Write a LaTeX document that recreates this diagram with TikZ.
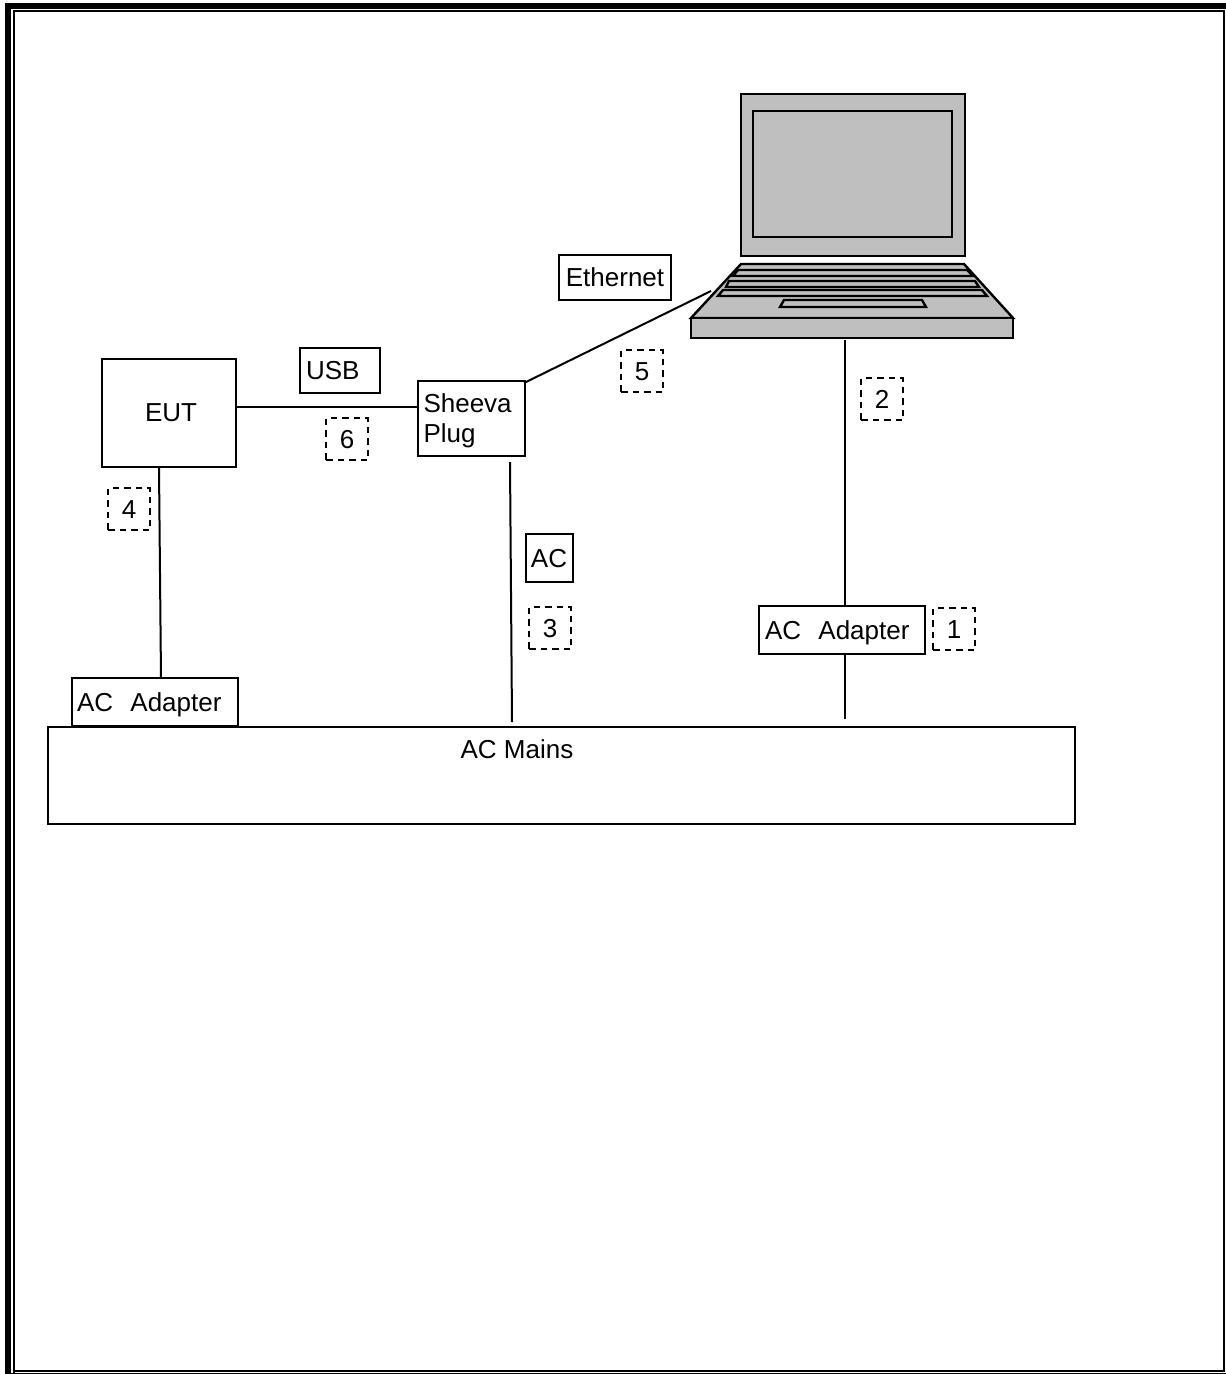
\documentclass[tikz,border=0pt]{standalone}
\usepackage{fontspec}
\setmainfont{Liberation Sans}
\begin{document}
\begin{tikzpicture}[
    x=1pt, y=-1pt,
    every node/.style={font=\fontsize{26pt}{30.5pt}\selectfont},
    labelbox/.style={draw, line width=2pt, inner sep=0pt, anchor=center, text height=19pt, text depth=0pt},
    leftbox/.style={labelbox, align=left, inner xsep=6pt},
    markbox/.style={draw, dash pattern=on 6.5pt off 5pt, line width=2pt, inner sep=0pt, anchor=center, minimum width=42pt, minimum height=42pt, text height=19pt, text depth=0pt},
    wire/.style={line width=2pt},
    laptop/.style={draw, line width=2.4pt, fill=gray!50!white}
]
\useasboundingbox (0,0) rectangle (1226,1374);
% page frame
\draw[line width=6.5pt] (8,1374) -- (8,6) -- (1226,6);
\draw[line width=2.6pt] (14,1374) -- (14,11) -- (1224,11) -- (1224,1371) -- (14,1371);
\draw[line width=1.5pt] (11,1373.6) -- (1226,1373.6);
% laptop
\draw[laptop] (741,94) rectangle (965,256);
\draw[laptop] (753,111) rectangle (952,237);
\draw[laptop] (741,264) -- (964,264) -- (1013,318) -- (691,318) -- cycle;
\draw[laptop] (691,318) rectangle (1013,338);
\draw[laptop] (738,270) -- (967,270) -- (973,276) -- (733,276) -- cycle;
\draw[laptop] (729,281) -- (975,281) -- (979,287) -- (726,287) -- cycle;
\draw[laptop] (723,290) -- (982,290) -- (987,296) -- (718,296) -- cycle;
\draw[laptop] (784,300) -- (922,300) -- (926,307) -- (780,307) -- cycle;
% boxes
\node[labelbox, text depth=2pt, minimum width=134pt, minimum height=108pt] (eut) at (169,413) {\hspace*{4pt}EUT};
\node[leftbox, text depth=31pt, text width=95pt, minimum height=75pt] (plug) at (471,418) {Sheeva\\Plug};
\node[leftbox, text width=154pt, minimum height=48pt] (adapterA) at (842,630) {AC\ \ Adapter};
\node[leftbox, inner xsep=5pt, text width=156pt, minimum height=48pt] (adapterB) at (155,702) {AC\ \ Adapter};
\node[labelbox, minimum width=1027pt, minimum height=97pt, text depth=53pt] (mains) at (561.5,775) {\hspace*{-89pt}AC Mains};
\node[labelbox, minimum width=112pt, minimum height=45pt] (ethernet) at (615,277) {Ethernet};
\node[leftbox, text width=68pt, minimum height=45pt] (usb) at (340,370) {USB};
\node[labelbox, minimum width=47pt, minimum height=48pt] (ac) at (549,558) {AC};
% numbered marks
\node[markbox] (mark1) at (954,629) {1};
\node[markbox] (mark2) at (882,399) {2};
\node[markbox] (mark3) at (550,628) {3};
\node[markbox] (mark4) at (129,509) {4};
\node[markbox] (mark5) at (642,371) {5};
\node[markbox] (mark6) at (347,439) {6};
% connector ends
\coordinate (laptopPort) at (711,291);
\coordinate (laptopPower) at (845,340);
\coordinate (plugPort) at (524,383);
\coordinate (plugPower) at (510,462);
\coordinate (eutPower) at (159,468);
\coordinate (adapterIn) at (161,678);
\coordinate (mainsA) at (512,722);
\coordinate (mainsB) at (845,719);
% cables
\draw[wire] (eut.east |- 0,407) -- (plug.west |- 0,407);
\draw[wire] (plugPort) -- (laptopPort);
\draw[wire] (laptopPower) -- (laptopPower |- adapterA.north);
\draw[wire] (mainsB |- adapterA.south) -- (mainsB);
\draw[wire] (plugPower) -- (mainsA);
\draw[wire] (eutPower) -- (adapterIn);
\end{tikzpicture}
\end{document}
